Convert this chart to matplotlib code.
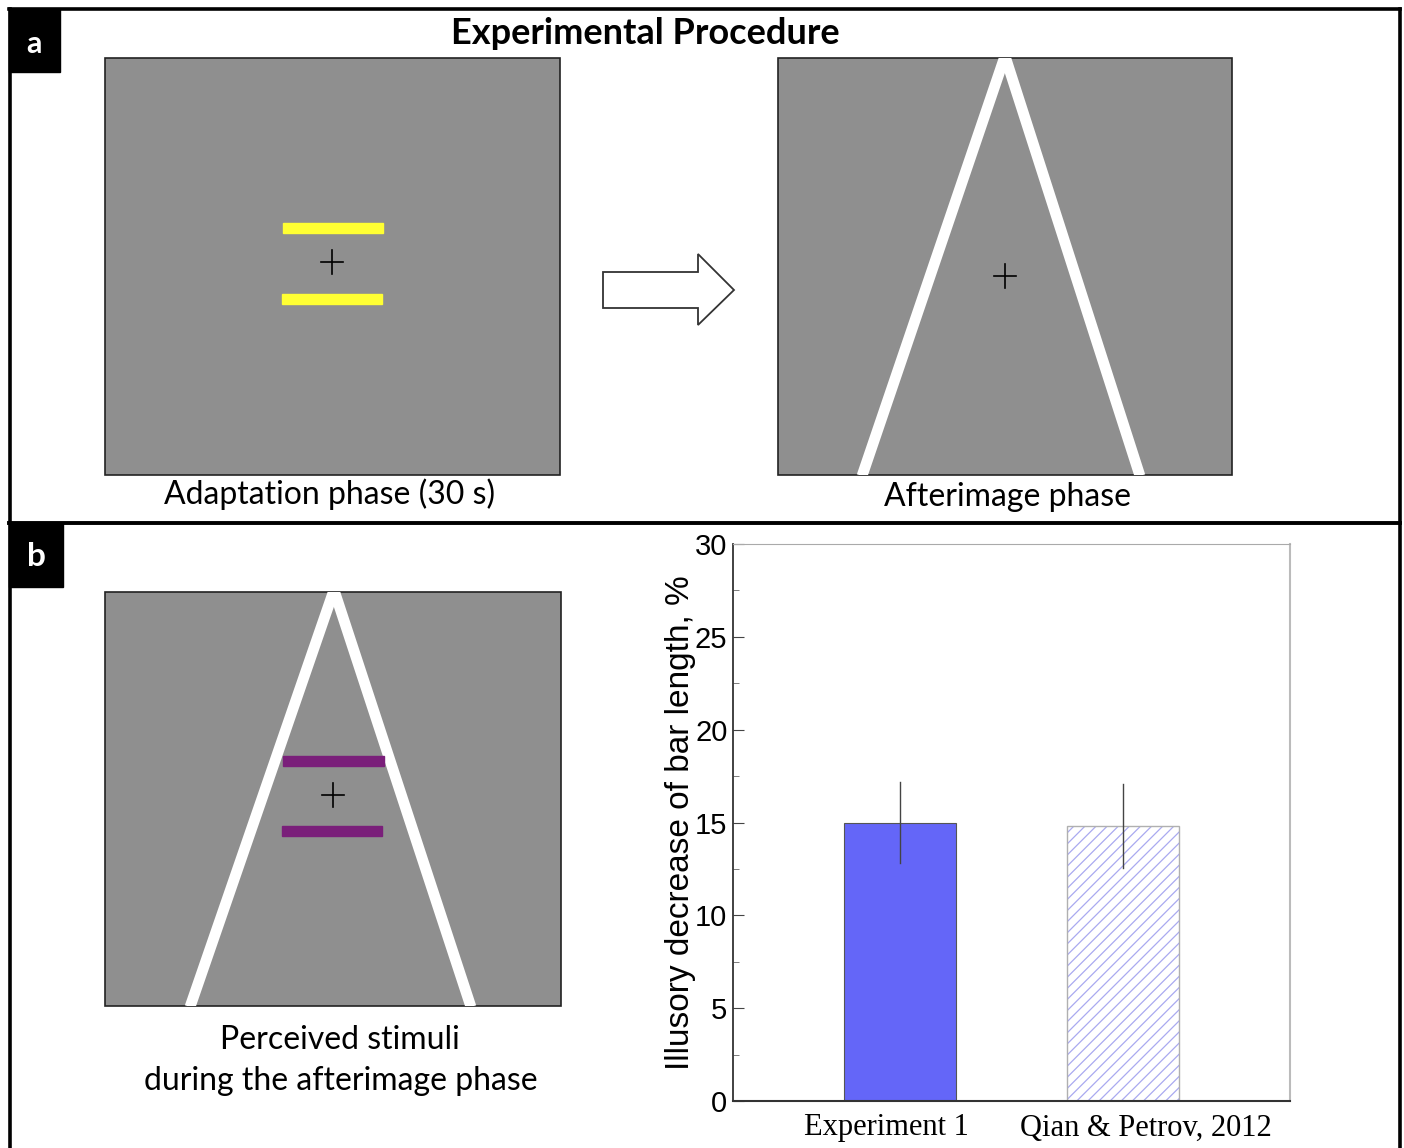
import matplotlib
matplotlib.use('Agg')
import matplotlib.pyplot as plt
import matplotlib.transforms as mtransforms
from matplotlib.patches import Rectangle, Polygon

# bar chart data
bar_labels = ['Experiment 1', 'Qian & Petrov, 2012']
bar_values = [15.0, 14.8]
bar_errors = [2.2, 2.25]
y_ticks = [0, 5, 10, 15, 20, 25, 30]

GRAY = '#8f8f8f'
sans = 'Lato'
cap_size = 23

fig = plt.figure(figsize=(14.04, 11.48), dpi=100)

# full-figure canvas in pixel units for the schematic part
cv = fig.add_axes([0, 0, 1, 1])
cv.set_xlim(0, 1404)
cv.set_ylim(1148, 0)
cv.axis('off')

# outer frame and divider
cv.plot([10, 10], [1148, 9], color='black', lw=2.6)
cv.plot([9, 1400], [9, 9], color='black', lw=2.6)
cv.plot([1400, 1400], [9, 1148], color='black', lw=2.6)
cv.plot([9, 1400], [523, 523], color='black', lw=2.8)

# panel letters
cv.add_patch(Rectangle((9, 9), 51, 63, color='black'))
cv.text(34, 44, 'a', color='white', fontsize=22, fontweight='bold',
        family=sans, ha='center', va='center')
cv.add_patch(Rectangle((9, 523), 54, 64, color='black'))
cv.text(36, 557, 'b', color='white', fontsize=24, fontweight='bold',
        family=sans, ha='center', va='center')

cv.text(645, 34, 'Experimental Procedure', fontsize=26, fontweight='bold',
        family=sans, ha='center', va='center')


def screen(x0, y0, x1, y1):
    r = Rectangle((x0, y0), x1 - x0, y1 - y0, facecolor=GRAY,
                  edgecolor='#222222', lw=1.2, zorder=1)
    cv.add_patch(r)
    return r


def cross(x, y):
    cv.plot([x - 11, x + 11], [y, y], color='black', lw=1.2, zorder=4)
    cv.plot([x, x], [y - 12, y + 12], color='black', lw=1.2, zorder=4)


def wedge(r, apex, left_x, right_x, y_bottom):
    for bx in (left_x, right_x):
        ln, = cv.plot([apex[0], bx], [apex[1] - 2, y_bottom], color='white',
                      lw=7.8, solid_capstyle='butt', zorder=2)
        ln.set_clip_path(r)


# panel a, adaptation
screen(105, 58, 560, 475)
cv.add_patch(Rectangle((283, 223), 100, 10, color='#ffff33', zorder=3))
cv.add_patch(Rectangle((282, 294), 100, 10, color='#ffff33', zorder=3))
cross(332, 262)
cv.text(330, 494, 'Adaptation phase (30 s)', fontsize=cap_size, family=sans,
        ha='center', va='center')

# arrow
arrow = Polygon([(603, 272), (698, 272), (698, 254), (734, 290),
                 (698, 325), (698, 308), (603, 308)], closed=True,
                facecolor='white', edgecolor='#333333', lw=1.3)
cv.add_patch(arrow)

# panel a, afterimage
r2 = screen(778, 58, 1232, 475)
wedge(r2, (1005, 58), 862, 1140, 476)
cross(1005, 276)
cv.text(1008, 497, 'Afterimage phase', fontsize=cap_size, family=sans,
        ha='center', va='center')

# panel b, perceived
r3 = screen(105, 592, 561, 1006)
wedge(r3, (334, 592), 190, 471, 1007)
cv.add_patch(Rectangle((283, 756), 101, 10, color='#7a1f7a', zorder=3))
cv.add_patch(Rectangle((282, 826), 100, 10, color='#7a1f7a', zorder=3))
cross(333, 795)
cv.text(340, 1040, 'Perceived stimuli', fontsize=cap_size, family=sans,
        ha='center', va='center')
cv.text(341, 1081, 'during the afterimage phase', fontsize=cap_size,
        family=sans, ha='center', va='center')

# bar chart
ax = fig.add_axes([733 / 1404, 1 - 1101 / 1148, 557 / 1404, 557 / 1148])
x = [1, 2]
ax.bar(x[0], bar_values[0], 0.5, color='#6466f8', edgecolor='#555555', lw=0.8)
plt.rcParams['hatch.linewidth'] = 0.9
ax.bar(x[1], bar_values[1], 0.5, color='white', edgecolor='#a9a9f0',
       hatch='///', lw=0)
ax.bar(x[1], bar_values[1], 0.5, fill=False, edgecolor='#b0b0b0', lw=1.0)
for xi, v, e in zip(x, bar_values, bar_errors):
    ax.plot([xi, xi], [v - e, v + e], color='#444444', lw=1.0)

ax.set_xlim(0.25, 2.75)
ax.set_ylim(0, 30)
ax.set_yticks(y_ticks)
ax.set_yticks([2.5, 7.5, 12.5, 17.5, 22.5, 27.5], minor=True)
ax.set_xticks(x)
ax.set_xticklabels(bar_labels, family='Liberation Serif', fontsize=22)
ax.tick_params(axis='x', length=0, pad=9)
# labels sit a little off the bar centres in the original
for lab, dx in zip(ax.get_xticklabels(), [-14, 23]):
    lab.set_transform(lab.get_transform() +
                      mtransforms.ScaledTranslation(dx / 100, 0,
                                                    fig.dpi_scale_trans))
ax.tick_params(axis='y', which='major', direction='in', length=8,
               labelsize=21, pad=4, color='#444444')
ax.tick_params(axis='y', which='minor', direction='in', length=4,
               color='#666666')
for lab in ax.get_yticklabels():
    lab.set_family('Liberation Sans')
ax.set_ylabel('Illusory decrease of bar length, %', family='Liberation Sans',
              fontsize=24)
ax.yaxis.set_label_coords(-37 / 557, 0.5)
ax.spines['left'].set_color('#333333')
ax.spines['bottom'].set_color('#333333')
ax.spines['left'].set_linewidth(1.3)
ax.spines['bottom'].set_linewidth(1.5)
ax.spines['top'].set_color('#aaaaaa')
ax.spines['right'].set_color('#bbbbbb')
ax.spines['right'].set_linewidth(1.5)

fig.savefig('out.png', dpi=100)
